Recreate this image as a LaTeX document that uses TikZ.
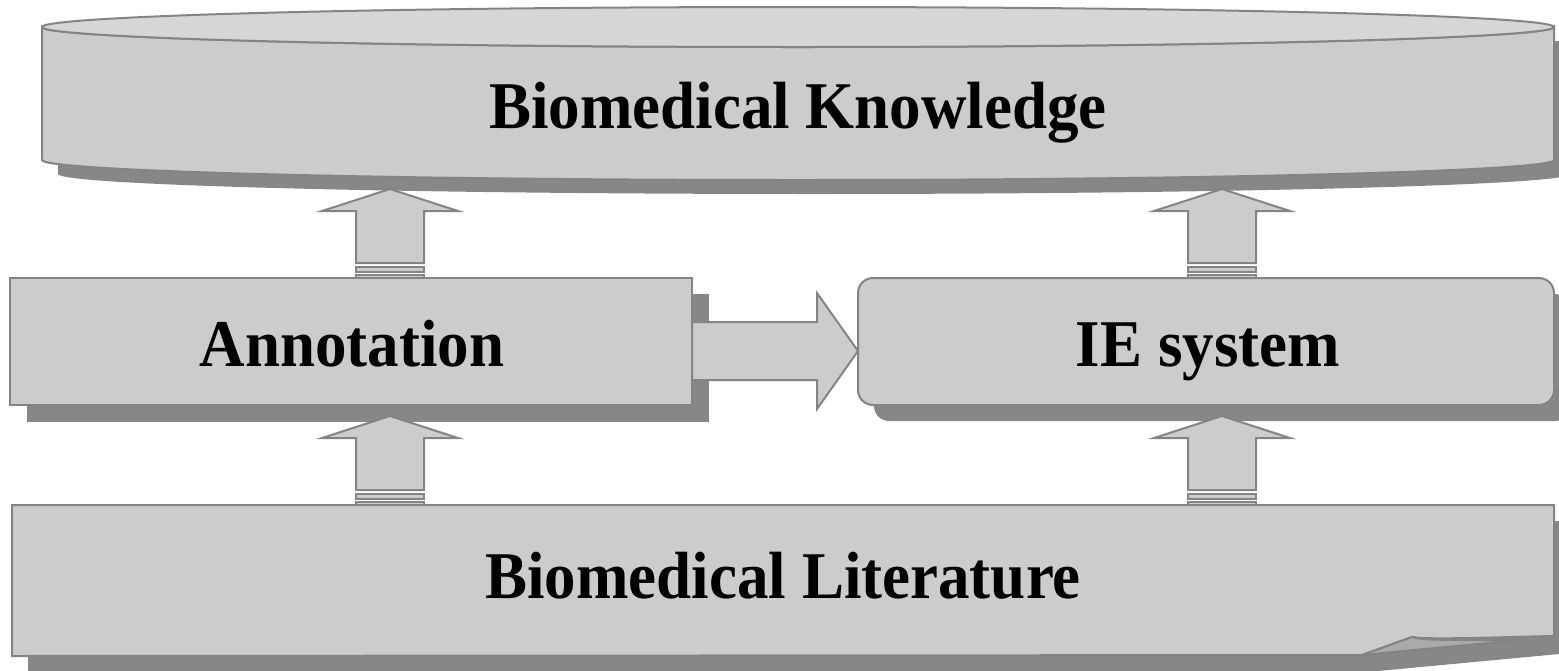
\documentclass[tikz,border=0pt]{standalone}
\usepackage{fontspec}
\setmainfont{Liberation Serif}
\usetikzlibrary{calc}
\definecolor{boxfill}{HTML}{CCCCCC}
\definecolor{lidfill}{HTML}{D6D6D6}
\definecolor{boxline}{HTML}{848484}
\definecolor{shade}{HTML}{878787}
\definecolor{flapfill}{HTML}{AAAAAA}
\newcommand{\tall}[1]{\scalebox{1}[1.06]{#1}}
\begin{document}
\begin{tikzpicture}[x=.5pt,y=-.5pt,line width=1pt,
  box/.style={fill=boxfill,draw=boxline},
  drop/.style={fill=shade},
  title/.style={font=\fontsize{31.5}{36}\selectfont\bfseries,anchor=base,inner sep=0pt}]
\useasboundingbox (0,0) rectangle (1559,670);
% shadows
\fill[drop] (58,41) -- (58,174) .. controls (58,185) and (397,194) .. (814,194)
  .. controls (1231,194) and (1570,185) .. (1570,174) -- (1570,41) -- cycle;
\fill[drop] (27,294) rectangle (709,422);
\fill[drop,rounded corners=7.5pt] (874,294) rectangle (1570,421);
\fill[drop] (28,521) -- (1570,521) -- (1570,653) -- (1378,671) -- (28,672) -- cycle;
% knowledge store
\path[box] (42,27) -- (42,160) .. controls (42,171) and (381,180) .. (798,180)
  .. controls (1215,180) and (1554,171) .. (1554,160) -- (1554,27)
  .. controls (1554,38) and (1215,47) .. (798,47)
  .. controls (381,47) and (42,38) .. cycle;
\path[box,fill=lidfill] (798,27) ellipse [x radius=756,y radius=20];
% annotation and IE system
\path[box] (10,278) rectangle (692,405);
\path[box,rounded corners=7.5pt] (858,278) rectangle (1554,405);
% literature (page with turned corner)
\path[box] (12,505) -- (1554,505) -- (1554,636) .. controls (1500,637) and (1430,640) .. (1412,637)
  -- (1362,655) -- (12,656) -- cycle;
\path[fill=flapfill,draw=boxline] (1362,655) -- (1412,637) .. controls (1425,640) .. (1520,640) -- cycle;
% labels
\node[title] (kb) at (798,128) {\tall{Biomedical Knowledge}};
\node[title] (ann) at (352,366) {\tall{Annotation}};
\node[title] (ie) at (1208,366) {\tall{IE system}};
\node[title] (lit) at (783,598) {\tall{Biomedical Literature}};
% block arrows
\coordinate (annup) at (390,278);
\coordinate (ieup) at (1222,278);
\coordinate (litann) at (390,505);
\coordinate (litie) at (1222,505);
\coordinate (annout) at (692,351);
\coordinate (iein) at (858,351);
\foreach \base in {annup,ieup,litann,litie} {
 \begin{scope}[shift={(\base)}]
  \path[box] (-34,-15) -- (-34,-67) -- (-68,-67) -- (0,-89) -- (68,-67) -- (34,-67) -- (34,-15) -- cycle;
  \path[box] (-34,-11) rectangle (34,-6);
  \path[box] (-34,-3) rectangle (34,0);
 \end{scope}
}
\path[box] (annout) ++(0,-29) -- ++(125,0) -- ++(0,-29) -- (iein) -- ++(-41,58) -- ++(0,-29)
  -- ++(-125,0) -- cycle;
\end{tikzpicture}
\end{document}
